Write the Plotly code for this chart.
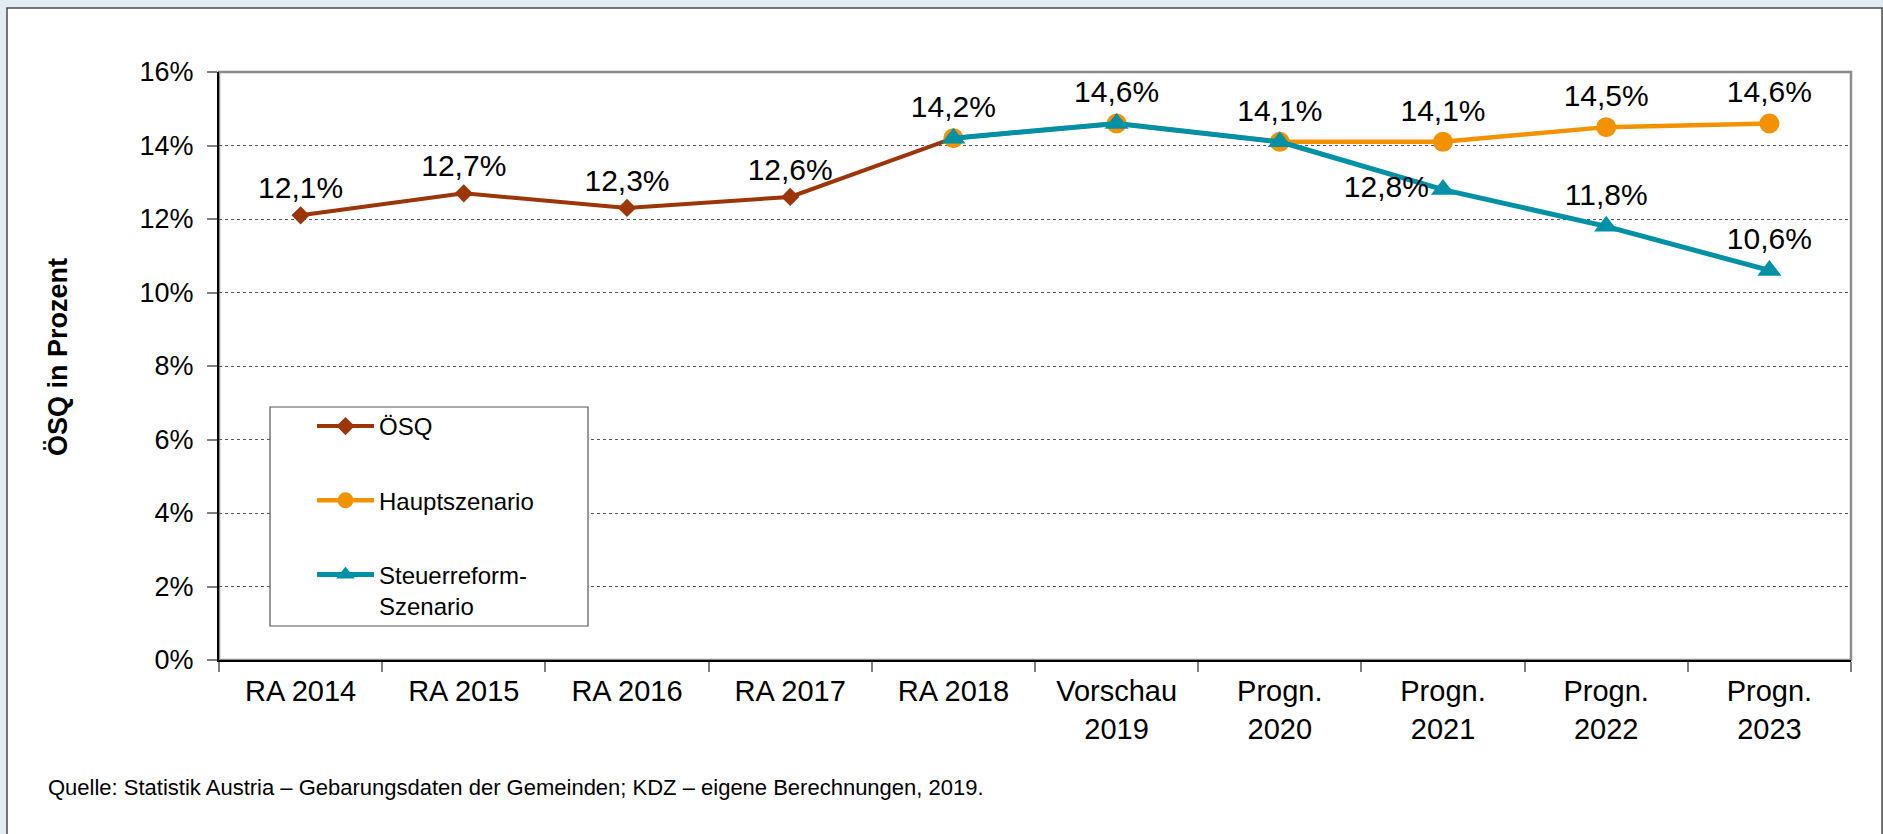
import plotly.graph_objects as go

# ---------------- data ----------------
categories = ["RA 2014", "RA 2015", "RA 2016", "RA 2017", "RA 2018",
              "Vorschau<br>2019", "Progn.<br>2020", "Progn.<br>2021",
              "Progn.<br>2022", "Progn.<br>2023"]
osq = [12.1, 12.7, 12.3, 12.6, 14.2, None, None, None, None, None]
haupt = [None, None, None, None, 14.2, 14.6, 14.1, 14.1, 14.5, 14.6]
steuer = [None, None, None, None, 14.2, 14.6, 14.1, 12.8, 11.8, 10.6]

# which points carry a value label (avoid duplicates where series overlap)
osq_lbl = [1, 1, 1, 1, 0, 0, 0, 0, 0, 0]
haupt_lbl = [0, 0, 0, 0, 1, 1, 1, 1, 1, 1]
steuer_lbl = [0, 0, 0, 0, 0, 0, 0, 1, 1, 1]
steuer_pos = ["top center"] * 7 + ["middle left", "top center", "top center"]

y_tickvals = [0, 2, 4, 6, 8, 10, 12, 14, 16]
y_ticktext = ["0%", "2%", "4%", "6%", "8%", "10%", "12%", "14%", "16%"]

FONT = "Liberation Sans, Arial, sans-serif"
C_OSQ = "#9c3508"
C_HAUPT = "#f39200"
C_STEUER = "#0091a6"

# ---------------- layout geometry (pixels) ----------------
W, H = 1883, 834
L, R, T, B = 219, 1851, 72, 660
PW, PH = R - L, B - T


def px(xp):
    return (xp - L) / PW


def py(yp):
    return (B - yp) / PH


def fmt(v):
    return ("%.1f%%" % v).replace(".", ",")


def labels(vals, flags):
    return [fmt(v) if (v is not None and f) else "" for v, f in zip(vals, flags)]


LBL = dict(family=FONT, size=30, color="black")

fig = go.Figure()

fig.add_trace(go.Scatter(
    x=categories, y=osq, name="ÖSQ", mode="lines+markers+text",
    line=dict(color=C_OSQ, width=4),
    marker=dict(symbol="diamond", size=14, color=C_OSQ),
    text=labels(osq, osq_lbl), textposition="top center", textfont=LBL,
    legendgroup="a", cliponaxis=False))

fig.add_trace(go.Scatter(
    x=categories, y=haupt, name="Hauptszenario", mode="lines+markers+text",
    line=dict(color=C_HAUPT, width=4.5),
    marker=dict(symbol="circle", size=20, color=C_HAUPT),
    text=labels(haupt, haupt_lbl), textposition="top center", textfont=LBL,
    legendgroup="b", cliponaxis=False))

fig.add_trace(go.Scatter(
    x=categories, y=steuer, name="Steuerreform-<br>Szenario", mode="lines+markers+text",
    line=dict(color=C_STEUER, width=5),
    marker=dict(symbol="triangle-up", size=21, color=C_STEUER),
    text=labels(steuer, steuer_lbl), textposition=steuer_pos, textfont=LBL,
    legendgroup="c", cliponaxis=False))

shapes = [
    # outer white frame
    dict(type="rect", xref="paper", yref="paper",
         x0=px(7), x1=px(1882), y0=py(900), y1=py(8),
         fillcolor="white", line=dict(color="#4a4a4a", width=1.5), layer="below"),
    # plot area border (gray)
    dict(type="rect", xref="paper", yref="paper",
         x0=0, x1=1, y0=0, y1=1,
         fillcolor="rgba(0,0,0,0)", line=dict(color="#8c8c8c", width=2.5), layer="below"),
    # legend box
    dict(type="rect", xref="paper", yref="paper",
         x0=px(270), x1=px(588), y0=py(626), y1=py(407),
         fillcolor="white", line=dict(color="#555555", width=1.2), layer="above"),
]

annotations = [
    dict(text="<b>ÖSQ in Prozent</b>", textangle=-90, xref="paper", yref="paper",
         x=px(58), y=py(357), xanchor="center", yanchor="middle", showarrow=False,
         font=dict(family=FONT, size=27, color="black")),
    dict(text="Quelle: Statistik Austria – Gebarungsdaten der Gemeinden; KDZ – eigene Berechnungen, 2019.",
         xref="paper", yref="paper", x=px(46), y=py(787), xanchor="left", yanchor="middle",
         showarrow=False, font=dict(family=FONT, size=22, color="black")),
]

fig.update_layout(
    width=W, height=H,
    margin=dict(l=L, r=W - R, t=T, b=H - B, pad=0),
    paper_bgcolor="#e2edf3", plot_bgcolor="white",
    font=dict(family=FONT, color="black"),
    showlegend=True,
    legend=dict(x=px(312), y=py(404), xanchor="left", yanchor="top",
                bgcolor="rgba(0,0,0,0)", borderwidth=0,
                font=dict(family=FONT, size=24, color="black"),
                traceorder="grouped", tracegroupgap=40, valign="top",
                itemwidth=57),
    shapes=shapes, annotations=annotations,
    xaxis=dict(type="category", showgrid=False, showline=True, linecolor="black", linewidth=2,
               ticks="outside", tickson="boundaries", ticklen=10, tickcolor="#7f7f7f", tickwidth=1.5,
               tickfont=dict(family=FONT, size=29, color="black"), zeroline=False,
               ticklabelstandoff=4, range=[-0.5, 9.5]),
    yaxis=dict(range=[0, 16], tickvals=y_tickvals, ticktext=y_ticktext, showline=True,
               linecolor="black", linewidth=2, ticks="outside", ticklen=10, tickcolor="#7f7f7f",
               tickwidth=1.5, tickfont=dict(family=FONT, size=27, color="black"),
               ticklabelstandoff=8,
               showgrid=True, gridcolor="#555555", griddash="dot", gridwidth=1, zeroline=False),
)

fig.write_html("out.html")
